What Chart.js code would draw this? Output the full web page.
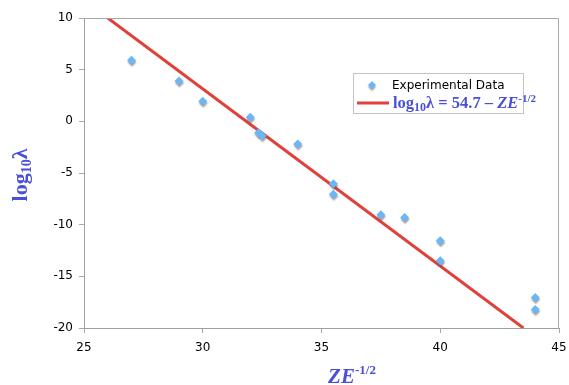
<!DOCTYPE html>
<html>
<head>
<meta charset="utf-8">
<script src="https://cdn.jsdelivr.net/npm/chart.js@4/dist/chart.umd.min.js"></script>
<style>
  html, body { margin: 0; padding: 0; background: #fff; }
  #wrap { width: 569px; height: 385px; position: relative; }
</style>
</head>
<body>
<div id="wrap"><canvas id="plot" width="569" height="385"></canvas></div>
<script>
// values
const zeValues = [27, 29, 30, 32, 32.35, 32.5, 34, 35.5, 35.5, 37.5, 38.5, 40, 40, 44, 44];
const logLambda = [5.9, 3.9, 1.95, 0.4, -1.1, -1.4, -2.2, -6.05, -7.05, -9.05, -9.3, -11.55, -13.5, -17.05, -18.2];
const fitX = [26, 43.5];
const fitY = [10, -20];
const xTicks = [25, 30, 35, 40, 45];
const yTicks = [-20, -15, -10, -5, 0, 5, 10];

const BLUE_TEXT = "#4a50d6";
const POINT_BLUE = "#6cb6f7";
const LINE_RED = "#e0413a";

// draws a run of text pieces with their own fonts / baseline shifts
function drawRich(ctx, parts, x, y) {
  let cx = x;
  parts.forEach(function (p) {
    ctx.font = p.font;
    ctx.fillText(p.t, cx, y + (p.dy || 0));
    cx += ctx.measureText(p.t).width + (p.gap || 0);
  });
  return cx - x;
}
function richWidth(ctx, parts) {
  let w = 0;
  parts.forEach(function (p) {
    ctx.font = p.font;
    w += ctx.measureText(p.t).width + (p.gap || 0);
  });
  return w;
}

const decor = {
  id: "decor",
  beforeDatasetDraw(chart, args) {
    if (args.index === 0) {
      const ctx = chart.ctx;
      ctx.save();
      ctx.shadowColor = "rgba(90,90,90,0.55)";
      ctx.shadowOffsetX = 0.5;
      ctx.shadowOffsetY = 2;
      ctx.shadowBlur = 1.5;
    }
  },
  afterDatasetDraw(chart, args) {
    if (args.index === 0) chart.ctx.restore();
  },
  afterDraw(chart) {
    const ctx = chart.ctx;
    const a = chart.chartArea;
    ctx.save();
    // top and right frame
    ctx.strokeStyle = "#a8a8a8";
    ctx.lineWidth = 1;
    ctx.beginPath();
    ctx.moveTo(a.left, a.top + 0.5);
    ctx.lineTo(a.right - 0.5, a.top + 0.5);
    ctx.lineTo(a.right - 0.5, a.bottom);
    ctx.stroke();

    // legend box
    ctx.fillStyle = "#fff";
    ctx.fillRect(353, 73, 170, 40);
    ctx.strokeStyle = "#c4c4c4";
    ctx.strokeRect(353.5, 73.5, 170, 40);
    // diamond marker
    ctx.save();
    ctx.shadowColor = "rgba(90,90,90,0.55)";
    ctx.shadowOffsetY = 2;
    ctx.shadowBlur = 1.5;
    ctx.fillStyle = POINT_BLUE;
    ctx.beginPath();
    ctx.moveTo(372, 81); ctx.lineTo(376, 85); ctx.lineTo(372, 89); ctx.lineTo(368, 85);
    ctx.closePath();
    ctx.fill();
    ctx.restore();
    ctx.fillStyle = "#000";
    ctx.textBaseline = "alphabetic";
    ctx.font = "12px 'DejaVu Sans'";
    ctx.fillText("Experimental Data", 392, 89);
    // line sample
    ctx.strokeStyle = LINE_RED;
    ctx.lineWidth = 3;
    ctx.beginPath();
    ctx.moveTo(357, 103); ctx.lineTo(389, 103);
    ctx.stroke();
    ctx.fillStyle = BLUE_TEXT;
    const serifB = "bold 16.5px 'Liberation Serif'";
    drawRich(ctx, [
      { t: "log", font: serifB },
      { t: "10", font: "bold 12px 'Liberation Serif'", dy: 3 },
      { t: "λ = 54.7 – ", font: serifB },
      { t: "ZE", font: "italic bold 16.5px 'Liberation Serif'" },
      { t: "-1/2", font: "bold 11px 'Liberation Serif'", dy: -6 }
    ], 393, 108);

    // x axis title
    const xParts = [
      { t: "ZE", font: "italic bold 21px 'Liberation Serif'" },
      { t: "-1/2", font: "bold 13px 'Liberation Serif'", dy: -9 }
    ];
    const xw = richWidth(ctx, xParts);
    drawRich(ctx, xParts, 352 - xw / 2, 383);

    // y axis title (rotated)
    const yParts = [
      { t: "log", font: "bold 22px 'Liberation Serif'" },
      { t: "10", font: "bold 14px 'Liberation Serif'", dy: 4 },
      { t: "λ", font: "bold 22px 'Liberation Serif'" }
    ];
    const yw = richWidth(ctx, yParts);
    ctx.translate(27, 175);
    ctx.rotate(-Math.PI / 2);
    drawRich(ctx, yParts, -yw / 2, 0);
    ctx.restore();
  }
};

const ctx = document.getElementById("plot").getContext("2d");

new Chart(ctx, {
  type: "scatter",
  data: {
    datasets: [{
      label: "Experimental Data",
      data: zeValues.map(function (x, i) { return { x: x, y: logLambda[i] }; }),
      pointStyle: "rectRot",
      pointRadius: 4.5,
      backgroundColor: POINT_BLUE,
      borderColor: POINT_BLUE,
      borderWidth: 0
    }, {
      type: "line",
      label: "fit",
      data: fitX.map(function (x, i) { return { x: x, y: fitY[i] }; }),
      borderColor: LINE_RED,
      borderWidth: 3,
      pointRadius: 0,
      fill: false
    }]
  },
  options: {
    responsive: false,
    animation: false,
    layout: { padding: { left: 0, right: 10, top: 18, bottom: 0 } },
    plugins: {
      legend: { display: false },
      tooltip: { enabled: false }
    },
    scales: {
      x: {
        type: "linear",
        min: 25,
        max: 45,
        afterBuildTicks: function (s) { s.ticks = xTicks.map(function (v) { return { value: v }; }); },
        afterFit: function (s) { s.height = 57; s.paddingRight = 0; s.paddingLeft = 0; },
        grid: { drawOnChartArea: false, tickLength: 5, color: "#a8a8a8" },
        border: { color: "#a0a0a0", width: 1 },
        ticks: {
          color: "#000",
          padding: 8,
          maxRotation: 0,
          font: { size: 12, family: "DejaVu Sans" }
        }
      },
      y: {
        min: -20,
        max: 10,
        afterBuildTicks: function (s) { s.ticks = yTicks.map(function (v) { return { value: v }; }); },
        afterFit: function (s) { s.width = 84; s.paddingTop = 0; s.paddingBottom = 0; },
        grid: { drawOnChartArea: false, tickLength: 5, color: "#a8a8a8" },
        border: { color: "#a0a0a0", width: 1 },
        ticks: {
          color: "#000",
          padding: 6,
          font: { size: 12, family: "DejaVu Sans" }
        }
      }
    }
  },
  plugins: [decor]
});
</script>
</body>
</html>
